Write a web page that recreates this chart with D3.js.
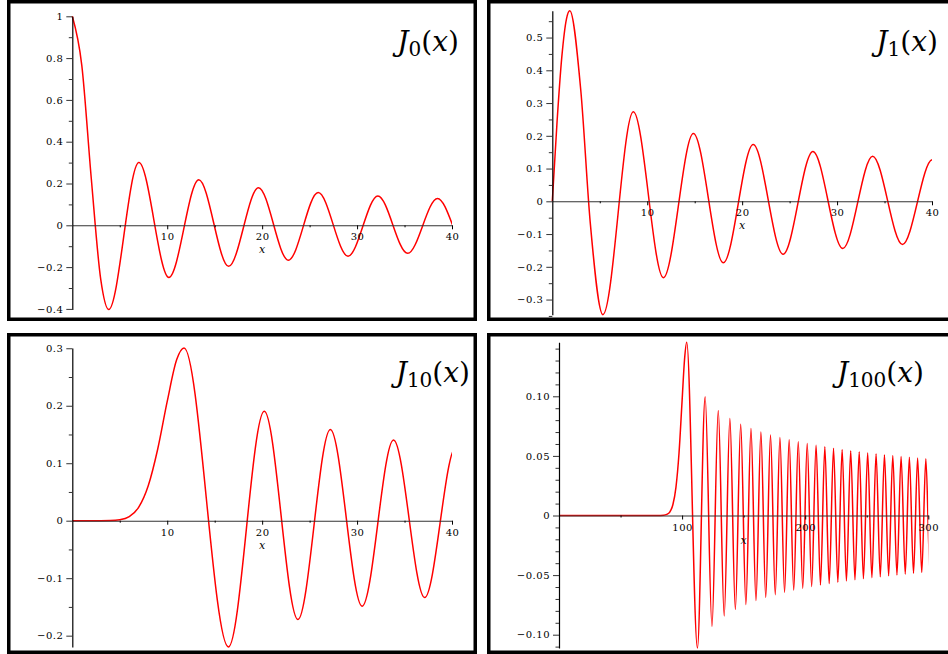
<!DOCTYPE html>
<html>
<head>
<meta charset="utf-8">
<script src="https://cdn.jsdelivr.net/npm/d3@7"></script>
<style>
  body { margin: 0; background: #fff; }
  svg { display: block; }
  svg text { font-family: "DejaVu Serif", serif; }
</style>
</head>
<body>
<script>
const width = 948;
const height = 654;

// J0(x): first drop, then the extrema
const j0X = [0, 1, 2, 3, 3.8317, 7.0156, 10.1735, 13.3237, 16.4706, 19.6159, 22.7601, 25.9037, 29.0468, 32.1897, 35.3323, 38.4748, 41.6171, 44.7593];
const j0Y = [1, 0.7652, 0.2239, -0.2601, -0.4028, 0.3001, -0.2497, 0.2184, -0.1965, 0.1801, -0.1672, 0.1567, -0.1480, 0.1406, -0.1342, 0.1286, -0.1237, 0.1190];

// J1(x)
const j1X = [0, 0.5, 1, 1.5, 1.8412, 3, 4, 5.3314, 8.5363, 11.706, 14.8636, 18.0155, 21.1644, 24.3113, 27.4571, 30.6019, 33.7462, 36.89, 40.0334, 43.1766];
const j1Y = [0, 0.2423, 0.4401, 0.5579, 0.5819, 0.3391, -0.066, -0.3461, 0.2733, -0.2333, 0.207, -0.188, 0.1733, -0.1617, 0.1522, -0.1442, 0.1375, -0.1318, 0.1268, -0.1220];

// J10(x): flat start, the rise, then extrema
const j10X = [0, 3, 4, 5, 6, 7, 8, 9, 10, 11, 11.7709, 16.448, 20.225, 23.765, 27.185, 30.535, 33.84, 37.12, 40.39, 43.63];
const j10Y = [0, 0, 0.00015, 0.00147, 0.00696, 0.02354, 0.06077, 0.1247, 0.2075, 0.2804, 0.3005, -0.2196, 0.1903, -0.1719, 0.1588, -0.1487, 0.1405, -0.1337, 0.1276, -0.1224];

// J100(x)
const j100X = [0, 80, 85, 87.5, 90, 92.5, 95, 97.5, 100, 102, 103.75,
  112.46, 118.73, 124.26, 129.38, 134.2, 138.81, 143.27, 147.6, 151.82, 155.95,
  160.01, 164.01, 167.94, 171.83, 175.67, 179.47, 183.24, 186.97, 190.67, 194.35,
  198.0, 201.63, 205.24, 208.83, 212.4, 215.95, 219.49, 223.01, 226.52, 230.01,
  233.49, 236.96, 240.42, 243.87, 247.31, 250.74, 254.17, 257.58, 260.98, 264.38,
  267.77, 271.15, 274.53, 277.9, 281.27, 284.62, 287.98, 291.32, 294.67, 298.0, 301.34, 304.66];
const j100Y = [0, 0, 0.0002, 0.0009, 0.0029, 0.009, 0.0236, 0.0524, 0.0964, 0.1312, 0.1453,
  -0.1112, 0.0997, -0.0929, 0.0881, -0.0843, 0.0813, -0.0788, 0.0766, -0.0747, 0.0729,
  -0.0714, 0.07, -0.0687, 0.0675, -0.0664, 0.0654, -0.0644, 0.0635, -0.0626, 0.0618,
  -0.061, 0.0603, -0.0596, 0.0589, -0.0583, 0.0577, -0.0571, 0.0565, -0.056, 0.0554,
  -0.0549, 0.0544, -0.054, 0.0535, -0.0531, 0.0526, -0.0522, 0.0518, -0.0514, 0.051,
  -0.0506, 0.0503, -0.0499, 0.0496, -0.0492, 0.0489, -0.0486, 0.0482, -0.0479, 0.0476, -0.0473, 0.0470];

// ticks
const j0YTicks = [-0.4, -0.2, 0, 0.2, 0.4, 0.6, 0.8, 1];
const j0YLabels = ["\u22120.4", "\u22120.2", "0", "0.2", "0.4", "0.6", "0.8", "1"];
const j0YMinor = [-0.3, -0.1, 0.1, 0.3, 0.5, 0.7, 0.9];
const j1YTicks = [-0.3, -0.2, -0.1, 0, 0.1, 0.2, 0.3, 0.4, 0.5];
const j1YLabels = ["\u22120.3", "\u22120.2", "\u22120.1", "0", "0.1", "0.2", "0.3", "0.4", "0.5"];
const j1YMinor = [-0.35, -0.25, -0.15, -0.05, 0.05, 0.15, 0.25, 0.35, 0.45, 0.55];
const j10YTicks = [-0.2, -0.1, 0, 0.1, 0.2, 0.3];
const j10YLabels = ["\u22120.2", "\u22120.1", "0", "0.1", "0.2", "0.3"];
const j10YMinor = [-0.15, -0.05, 0.05, 0.15, 0.25];
const j100YTicks = [-0.1, -0.05, 0, 0.05, 0.1];
const j100YLabels = ["\u22120.10", "\u22120.05", "0", "0.05", "0.10"];
const j100YMinor = [-0.11, -0.09, -0.08, -0.07, -0.06, -0.04, -0.03, -0.02, -0.01,
  0.01, 0.02, 0.03, 0.04, 0.06, 0.07, 0.08, 0.09, 0.11, 0.12, 0.13, 0.14];

const smallXTicks = [10, 20, 30, 40];
const smallXLabels = ["10", "20", "30", "40"];
const smallXMinor = [5, 15, 25, 35];
const bigXTicks = [100, 200, 300];
const bigXLabels = ["100", "200", "300"];
const bigXMinor = [50, 150, 250];

const panels = [
  { sub: "0", xs: j0X, ys: j0Y, xMax: 40, yTicks: j0YTicks, yLabels: j0YLabels, yMinor: j0YMinor,
    xTicks: smallXTicks, xLabels: smallXLabels, xMinor: smallXMinor,
    box: [7, 0, 477, 321], xRange: [72.3, 452], yZero: 225.3, yUnit: 209, titleAt: [459, 51] },
  { sub: "1", xs: j1X, ys: j1Y, xMax: 40, yTicks: j1YTicks, yLabels: j1YLabels, yMinor: j1YMinor,
    xTicks: smallXTicks, xLabels: smallXLabels, xMinor: smallXMinor,
    box: [487, 0, 962, 321], xRange: [552.3, 932], yZero: 201.3, yUnit: 327.5, titleAt: [938, 51] },
  { sub: "10", xs: j10X, ys: j10Y, xMax: 40, yTicks: j10YTicks, yLabels: j10YLabels, yMinor: j10YMinor,
    xTicks: smallXTicks, xLabels: smallXLabels, xMinor: smallXMinor,
    box: [7, 333, 477, 654], xRange: [72.3, 452], yZero: 520.7, yUnit: 574.8, titleAt: [470, 382] },
  { sub: "100", xs: j100X, ys: j100Y, xMax: 300, yTicks: j100YTicks, yLabels: j100YLabels, yMinor: j100YMinor,
    xTicks: bigXTicks, xLabels: bigXLabels, xMinor: bigXMinor,
    box: [487, 333, 962, 654], xRange: [559, 928.3], yZero: 515.5, yUnit: 1192, titleAt: [924, 382] }
];

const svg = d3.select("body").append("svg")
    .attr("width", width)
    .attr("height", height);

panels.forEach((p, pi) => {
    const [bx0, by0, bx1, by1] = p.box;
    const sw = 3.5;

    svg.append("rect")
        .attr("x", bx0 + sw / 2).attr("y", by0 + sw / 2)
        .attr("width", bx1 - bx0 - sw).attr("height", by1 - by0 - sw)
        .attr("fill", "#fff").attr("stroke", "#000").attr("stroke-width", sw);

    const x = d3.scaleLinear().domain([0, p.xMax]).range(p.xRange);
    const ext = d3.extent(p.ys);
    const y = d3.scaleLinear().domain(ext).range(ext.map(v => p.yZero - p.yUnit * v));

    const g = svg.append("g");

    // curve, clipped at the end of the x range
    const clipId = "clip" + pi;
    svg.append("clipPath").attr("id", clipId)
      .append("rect")
        .attr("x", x(0) - 2).attr("y", by0)
        .attr("width", x(p.xMax) - x(0) + 2).attr("height", by1 - by0);

    const pts = p.xs.map((d, i) => [d, p.ys[i]]);
    const line = d3.line()
        .x(d => x(d[0]))
        .y(d => y(d[1]))
        .curve(d3.curveMonotoneX);

    g.append("path")
        .datum(pts)
        .attr("clip-path", `url(#${clipId})`)
        .attr("fill", "none")
        .attr("stroke", "#ff0000")
        .attr("stroke-width", 1.5)
        .attr("d", line);

    // x axis along y = 0
    const xAxis = g.append("g")
        .attr("transform", `translate(0,${y(0)})`)
        .call(d3.axisBottom(x).tickValues(p.xTicks).tickFormat((d, i) => p.xLabels[i])
            .tickSize(4).tickPadding(4).tickSizeOuter(0));
    xAxis.select(".domain").attr("stroke", "#333").attr("stroke-width", 1.1);
    xAxis.selectAll(".tick line").attr("stroke", "#000");

    g.append("g")
        .attr("transform", `translate(0,${y(0)})`)
        .call(d3.axisBottom(x).tickValues(p.xMinor).tickFormat("").tickSize(2).tickSizeOuter(0))
        .call(a => a.select(".domain").remove());

    // y axis at x = 0
    const yAxis = g.append("g")
        .attr("transform", `translate(${x(0)},0)`)
        .call(d3.axisLeft(y).tickValues(p.yTicks).tickFormat((d, i) => p.yLabels[i])
            .tickSize(6).tickPadding(3).tickSizeOuter(0));
    yAxis.select(".domain").attr("stroke", "#000").attr("stroke-width", 1.2);
    yAxis.selectAll(".tick line").attr("stroke", "#333");

    g.append("g")
        .attr("transform", `translate(${x(0)},0)`)
        .call(d3.axisLeft(y).tickValues(p.yMinor).tickFormat("").tickSize(3.5).tickSizeOuter(0))
        .call(a => a.select(".domain").remove())
        .selectAll(".tick line").attr("stroke", "#333");

    [xAxis, yAxis].forEach(a => a
        .attr("font-size", 10)
        .selectAll("text")
        .attr("letter-spacing", 0.5)
        .attr("fill", "#000"));

    // x label under the middle of the axis
    g.append("text")
        .attr("font-size", 11)
        .attr("font-style", "italic")
        .attr("x", x(p.xMax / 2))
        .attr("y", y(0) + 28)
        .attr("text-anchor", "middle")
        .text("x");

    // J_n(x) title
    const t = g.append("text")
        .attr("font-size", 28)
        .attr("x", p.titleAt[0])
        .attr("y", p.titleAt[1])
        .attr("text-anchor", "end");
    t.append("tspan").attr("font-style", "italic").text("J");
    t.append("tspan").attr("font-size", 20).attr("dy", 5).text(p.sub);
    t.append("tspan").attr("dy", -5).text("(");
    t.append("tspan").attr("font-style", "italic").text("x");
    t.append("tspan").text(")");
});
</script>
</body>
</html>
